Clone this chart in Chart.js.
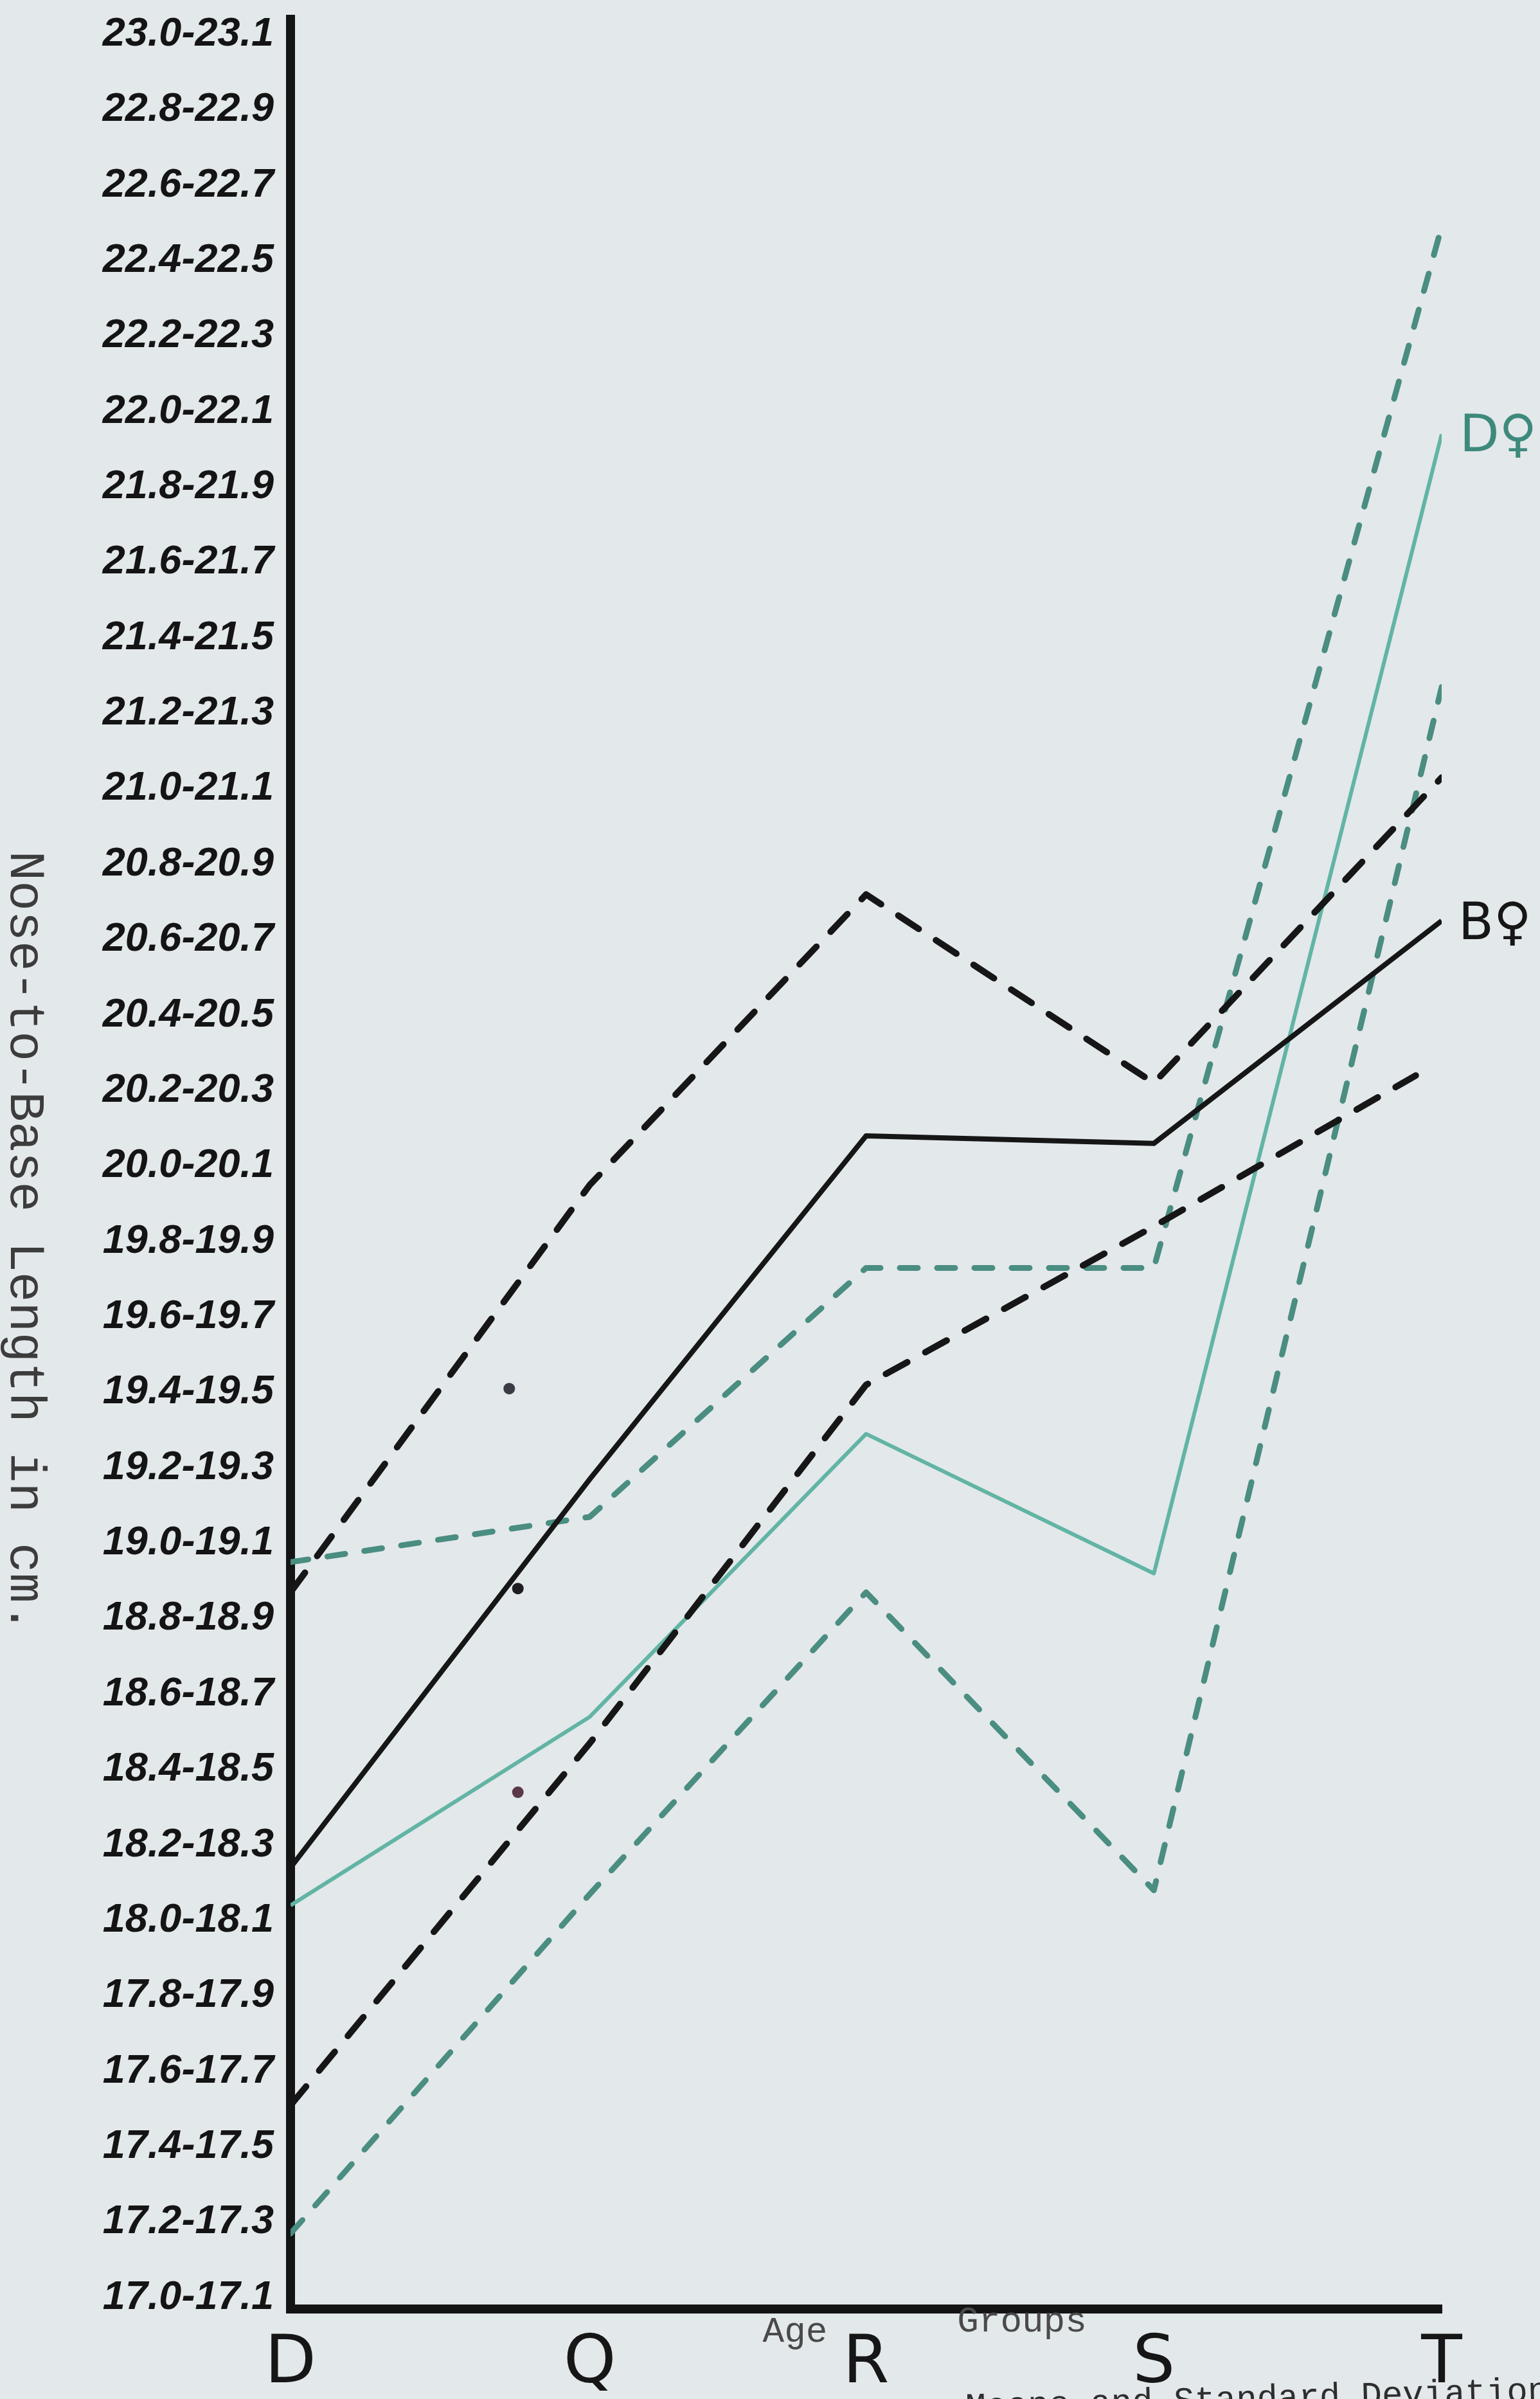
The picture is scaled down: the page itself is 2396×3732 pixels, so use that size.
<!DOCTYPE html>
<html>
<head>
<meta charset="utf-8">
<script src="https://cdn.jsdelivr.net/npm/chart.js@4.4.1/dist/chart.umd.min.js"></script>
<style>
  html, body { margin: 0; padding: 0; background: #e3e8eb; }
  canvas { display: block; }
</style>
</head>
<body>
<canvas id="c" width="2396" height="3732"></canvas>
<script>
// ---- categories (age groups) and their positions along the x axis ----
const groups = ['D', 'Q', 'R', 'S', 'T'];
const groupX = [0, 1.04, 2, 3, 4];

// ---- y tick labels (ranges in cm) ----
const yTickLabels = [
  '17.0-17.1', '17.2-17.3', '17.4-17.5', '17.6-17.7', '17.8-17.9',
  '18.0-18.1', '18.2-18.3', '18.4-18.5', '18.6-18.7', '18.8-18.9',
  '19.0-19.1', '19.2-19.3', '19.4-19.5', '19.6-19.7', '19.8-19.9',
  '20.0-20.1', '20.2-20.3', '20.4-20.5', '20.6-20.7', '20.8-20.9',
  '21.0-21.1', '21.2-21.3', '21.4-21.5', '21.6-21.7', '21.8-21.9',
  '22.0-22.1', '22.2-22.3', '22.4-22.5', '22.6-22.7', '22.8-22.9',
  '23.0-23.1'
];
const yTickValues = yTickLabels.map(s => parseFloat(s.split('-')[0]));

// ---- series: B♀ (black) mean and ±σ ----
const bMean  = [18.14, 19.17, 20.08, 20.06, 20.65];
const bUpper = [18.87, 19.95, 20.72, 20.22, 21.03];
const bLower = [17.51, 18.47, 19.42, 19.84, 20.24];
const bLowerX = [0, 1.04, 2, 3, 3.91];

// ---- series: D♀ (teal) mean and ±σ ----
const dMean  = [18.04, 18.54, 19.29, 18.92, 21.94];
const dUpper = [18.95, 19.07, 19.73, 19.73, 22.49];
const dLower = [17.17, 18.07, 18.87, 18.08, 21.27];

// ---- stray dots on the sheet ----
const strayX = [0.76, 0.79, 0.79];
const strayY = [19.41, 18.88, 18.34];
const strayColors = ['#3a3b44', '#1e1e22', '#5a3848'];

const toXY = (xs, ys) => ys.map((v, i) => ({ x: xs[i], y: v }));

const BLACK = '#161616';
const TEAL_SOLID = '#62b4a4';
const TEAL_DASH = '#4a8d81';

const decor = {
  id: 'decor',
  beforeDraw(chart) {
    const { ctx, width, height } = chart;
    ctx.save();
    ctx.fillStyle = '#e3e8eb';
    ctx.fillRect(0, 0, width, height);
    ctx.restore();
  },
  afterDraw(chart) {
    const { ctx } = chart;
    const xs = chart.scales.x, ys = chart.scales.y;
    ctx.save();
    // end-of-line series labels
    ctx.font = '80px "DejaVu Sans"';
    ctx.textAlign = 'left';
    ctx.textBaseline = 'middle';
    ctx.fillStyle = '#3d8a7c';
    ctx.fillText('D\u2640', xs.getPixelForValue(groupX[4]) + 28, ys.getPixelForValue(dMean[4]) + 6);
    ctx.fillStyle = BLACK;
    ctx.fillText('B\u2640', xs.getPixelForValue(groupX[4]) + 26, ys.getPixelForValue(bMean[4]) + 8);

    // y axis title, typed sideways (reads top to bottom)
    ctx.save();
    ctx.translate(38, 1932);
    ctx.rotate(Math.PI / 2);
    ctx.font = '78px "Liberation Mono"';
    ctx.fillStyle = '#3c3c3c';
    ctx.textAlign = 'center';
    ctx.textBaseline = 'middle';
    ctx.fillText('Nose-to-Base Length in cm.', 0, 0);
    ctx.restore();

    // x axis title split around R
    ctx.font = '56px "Liberation Mono"';
    ctx.fillStyle = '#4a4a4a';
    ctx.textAlign = 'center';
    ctx.textBaseline = 'middle';
    ctx.fillText('Age', 1237, 3628);
    ctx.fillText('Groups', 1590, 3612);

    // caption, partly cut off at the bottom edge
    ctx.save();
    ctx.translate(2442, 3734);
    ctx.rotate(-0.028);
    ctx.font = '54px "Liberation Mono"';
    ctx.fillStyle = '#2e2e2e';
    ctx.textAlign = 'right';
    ctx.textBaseline = 'alphabetic';
    ctx.fillText('Means and Standard Deviations', 0, 0);
    ctx.restore();

    ctx.restore();
  }
};

const dashedBlack = { borderColor: BLACK, borderWidth: 10, borderDash: [38, 32], borderCapStyle: 'round' };
const dashedTeal = { borderColor: TEAL_DASH, borderWidth: 9, borderDash: [28, 30], borderCapStyle: 'round' };

new Chart(document.getElementById('c'), {
  type: 'line',
  data: {
    datasets: [
      Object.assign({ label: 'B\u2640 mean', data: toXY(groupX, bMean), borderColor: BLACK, borderWidth: 8 }),
      Object.assign({ label: 'B\u2640 +SD', data: toXY(groupX, bUpper) }, dashedBlack),
      Object.assign({ label: 'B\u2640 -SD', data: toXY(bLowerX, bLower) }, dashedBlack),
      Object.assign({ label: 'D\u2640 mean', data: toXY(groupX, dMean), borderColor: TEAL_SOLID, borderWidth: 6 }),
      Object.assign({ label: 'D\u2640 +SD', data: toXY(groupX, dUpper) }, dashedTeal),
      Object.assign({ label: 'D\u2640 -SD', data: toXY(groupX, dLower) }, dashedTeal),
      {
        type: 'scatter', label: 'dots', data: toXY(strayX, strayY), showLine: false,
        pointRadius: 9, pointBackgroundColor: strayColors, pointBorderWidth: 0
      }
    ]
  },
  options: {
    responsive: false,
    animation: false,
    devicePixelRatio: 1,
    layout: { padding: { top: 30, right: 153, bottom: 0, left: 0 } },
    plugins: { legend: { display: false }, tooltip: { enabled: false } },
    elements: { point: { radius: 0 }, line: { tension: 0, borderJoinStyle: 'round' } },
    scales: {
      x: {
        type: 'linear', min: 0, max: 4,
        grid: { display: false, drawTicks: false },
        border: { display: true, color: '#141414', width: 14 },
        afterBuildTicks: s => { s.ticks = groupX.map(v => ({ value: v })); },
        afterFit: s => { s.height = 140; },
        ticks: {
          autoSkip: false, maxRotation: 0, minRotation: 0, padding: 25, color: '#161616',
          font: { family: 'DejaVu Sans', size: 104, lineHeight: 1.2 },
          callback: (v, i) => groups[i]
        }
      },
      y: {
        type: 'linear', min: 16.97, max: 23.04,
        grid: { display: false, drawTicks: false },
        border: { display: true, color: '#141414', width: 14 },
        afterBuildTicks: s => { s.ticks = yTickValues.map(v => ({ value: v })); },
        afterFit: s => { s.width = 452; },
        ticks: {
          autoSkip: false, padding: 26, color: '#141414',
          font: { family: 'Liberation Sans', size: 63, weight: 'bold', style: 'italic', lineHeight: 0.1 },
          callback: (v, i) => yTickLabels[i]
        }
      }
    }
  },
  plugins: [decor]
});
</script>
</body>
</html>
